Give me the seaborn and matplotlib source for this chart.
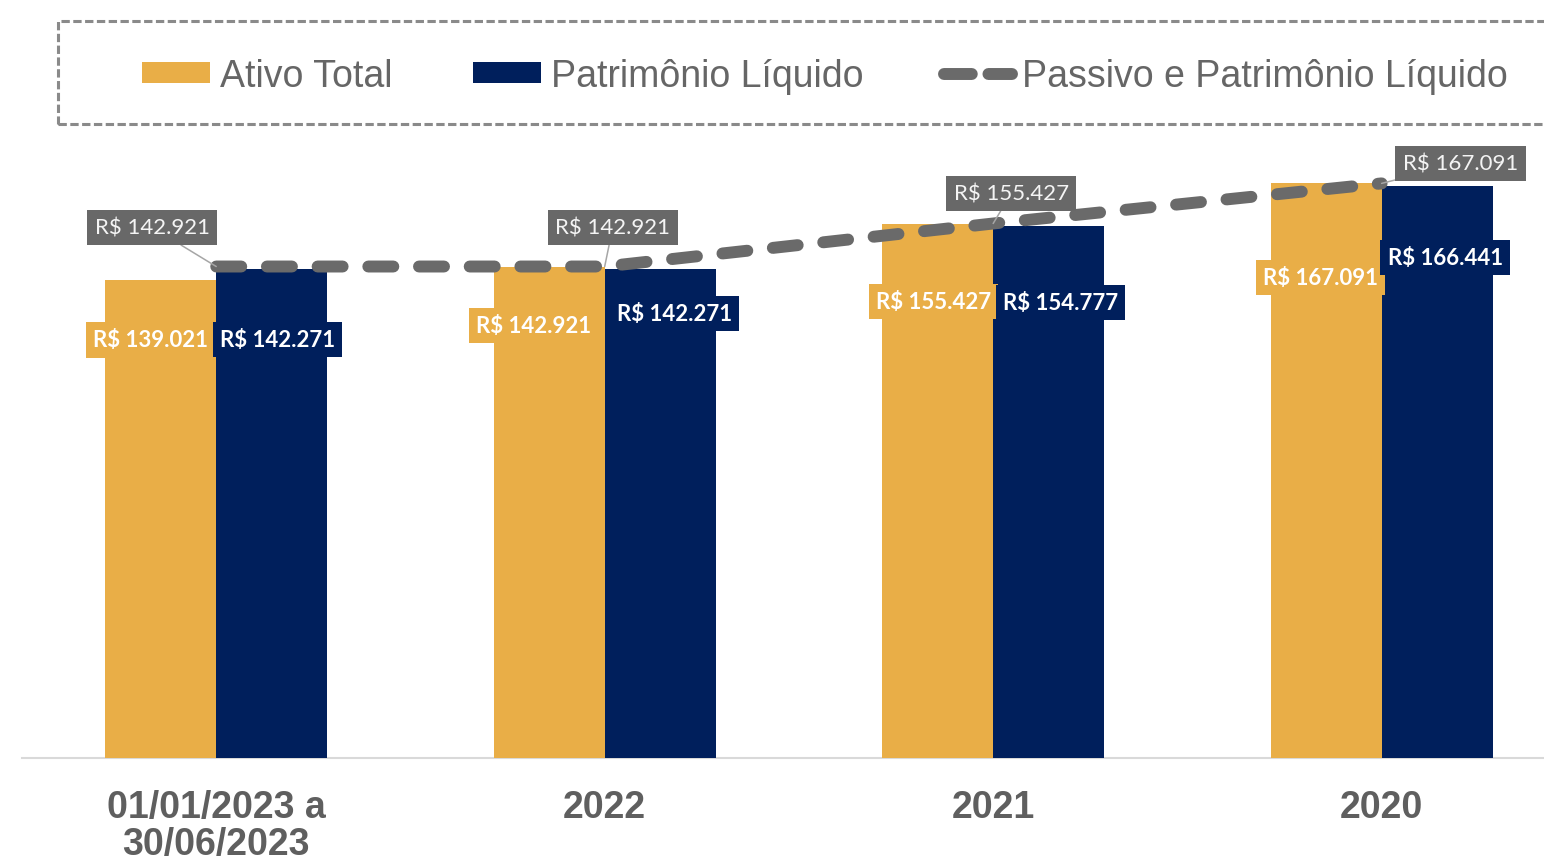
import numpy as np
import pandas as pd
import matplotlib
matplotlib.use("Agg")
import matplotlib.pyplot as plt
from matplotlib import font_manager
from matplotlib.patches import Patch, Rectangle
from matplotlib.lines import Line2D
import seaborn as sns

# ---------------- data ----------------
categories = ["01/01/2023 a\n30/06/2023", "2022", "2021", "2020"]
ativo_total = [139021, 142921, 155427, 167091]
patrimonio_liquido = [142271, 142271, 154777, 166441]
passivo_pl = [142921, 142921, 155427, 167091]
series_names = ["Ativo Total", "Patrimônio Líquido", "Passivo e Patrimônio Líquido"]


def fmt(v):
    return "R$ " + f"{v:,}".replace(",", ".")


# ---------------- style ----------------
GOLD = "#E9AE47"
NAVY = "#001F5C"
LINE_GRAY = "#6A6A6A"
BOX_GRAY = "#686868"
TEXT_GRAY = "#666666"
TICK_GRAY = "#5F5F5F"

sns.set_theme(style="white")
plt.rcParams["lines.scale_dashes"] = False
avail = {f.name for f in font_manager.fontManager.ttflist}
if "Liberation Sans Narrow" in avail:
    legend_font, legend_size = "Liberation Sans Narrow", 32.4
    lg_hl, lg_tp, lg_cs = 1.5, 0.22, 1.8
else:
    legend_font, legend_size = "Liberation Sans", 27
    lg_hl, lg_tp, lg_cs = 1.81, 0.27, 2.15
label_font = "Lato" if "Lato" in avail else "DejaVu Sans"

W, H = 1544, 862
PX = 0.72  # px -> pt at dpi 100

fig = plt.figure(figsize=(W / 100, H / 100), dpi=100)
ax = fig.add_axes([22 / W, 1 - 759 / H, 1 - 22 / W, (759 - 140) / H])

df = pd.DataFrame({
    "Categoria": categories * 2,
    "Valor": ativo_total + patrimonio_liquido,
    "Serie": [series_names[0]] * len(categories) + [series_names[1]] * len(categories),
})
sns.barplot(data=df, x="Categoria", y="Valor", hue="Serie", order=categories,
            hue_order=series_names[:2], palette=[GOLD, NAVY], width=0.571, gap=0,
            saturation=1, errorbar=None, legend=False, linewidth=0, ax=ax)

xpos = np.arange(len(categories))
sns.lineplot(x=xpos, y=passivo_pl, ax=ax, color=LINE_GRAY, linewidth=8.6, zorder=5)
ln = ax.lines[-1]
ln.set_dashes([18, 18.5])
ln.set_dash_capstyle("round")

ax.set_xlim(-0.5, 3.418)
ax.set_ylim(0, 180000)
ax.set_xticks(xpos)
ax.set_xticklabels(categories, fontsize=27, fontweight="bold", color=TICK_GRAY,
                   family="Liberation Sans", linespacing=1.04)
ax.tick_params(axis="x", length=0, pad=22)
ax.set_yticks([])
ax.set_xlabel("")
ax.set_ylabel("")
for s in ["left", "right", "top"]:
    ax.spines[s].set_visible(False)
ax.spines["bottom"].set_color("#D9D9D9")
ax.spines["bottom"].set_linewidth(1.5)
ax.spines["bottom"].set_zorder(0)

# ---------------- bar labels ----------------
bar_offsets = [
    [(-10, 60), (-16, 59), (-4, 78), (-6, 94)],   # Ativo Total (px right, px down)
    [(6, 71), (14, 45), (12, 77), (8, 72)],       # Patrimônio Líquido
]
box_colors = [GOLD, NAVY]
for ci, cont in enumerate(ax.containers[:2]):
    for bi, bar in enumerate(cont):
        dx, dy = bar_offsets[ci][bi]
        xc = bar.get_x() + bar.get_width() / 2
        ax.annotate(fmt(int(round(bar.get_height()))), (xc, bar.get_height()),
                    xytext=(dx * PX, -dy * PX), textcoords="offset points",
                    ha="center", va="center", fontsize=16, fontweight="bold",
                    family=label_font, color="white", zorder=6,
                    bbox=dict(boxstyle="square,pad=0.32", fc=box_colors[ci], ec="none"))

# ---------------- line labels ----------------
line_offsets = [(-64, -39), (8, -39), (18, -30), (79, -20)]
for i, v in enumerate(passivo_pl):
    dx, dy = line_offsets[i]
    ax.annotate(fmt(v), (xpos[i], v), xytext=(dx * PX, -dy * PX),
                textcoords="offset points", ha="center", va="center",
                fontsize=16, family=label_font, color="#F4F4F4", zorder=7,
                bbox=dict(boxstyle="square,pad=0.34", fc=BOX_GRAY, ec="none"),
                arrowprops=dict(arrowstyle="-", color="#A6A6A6", lw=1.1,
                                shrinkA=0, shrinkB=0))

# ---------------- legend ----------------
handles = [
    Patch(facecolor=GOLD, edgecolor="none", label=series_names[0]),
    Patch(facecolor=NAVY, edgecolor="none", label=series_names[1]),
    Line2D([0], [0], color=LINE_GRAY, lw=8.6, dashes=[20, 12],
           dash_capstyle="round", label=series_names[2]),
]
leg = fig.legend(handles=handles, loc="center left",
                 bbox_to_anchor=(142 / W, 1 - 77 / H), ncol=3, frameon=False,
                 borderpad=0, borderaxespad=0, handlelength=lg_hl,
                 handleheight=0.5, handletextpad=lg_tp, columnspacing=lg_cs,
                 prop={"family": legend_font, "size": legend_size})
for t in leg.get_texts():
    t.set_color(TEXT_GRAY)

frame = Rectangle((58 / W, 1 - 125 / H), (W + 20 - 58) / W, (125 - 22) / H,
                  transform=fig.transFigure, fill=False, ec="#8A8A8A", lw=2.2,
                  linestyle=(0, (6, 2.5)), zorder=0)
fig.patches.append(frame)

fig.savefig("out.png", dpi=100)
